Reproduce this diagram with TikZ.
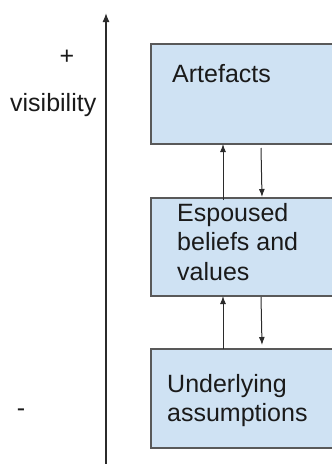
\documentclass[tikz,border=0pt]{standalone}
\usepackage{fontspec}
\setmainfont{Liberation Sans}
\usetikzlibrary{arrows.meta}
\definecolor{boxfill}{HTML}{CFE2F3}
\definecolor{boxline}{HTML}{595959}
\definecolor{txt}{HTML}{1A1A1A}
\definecolor{axiscol}{HTML}{2B2B2B}
\begin{document}
\begin{tikzpicture}[x=1pt,y=-1pt,
  layer/.style={draw=boxline, fill=boxfill, line width=1.5pt, rectangle, anchor=north west, inner sep=0pt, outer sep=0pt, minimum width=260pt},
  lbl/.style={anchor=north west, inner sep=0pt, align=left, text=txt, font=\fontsize{25}{29.5}\selectfont},
  plain/.style={inner sep=0pt, text=txt, font=\fontsize{25}{29.5}\selectfont},
  link/.style={draw=axiscol, line width=1pt, -{Latex[length=8pt,width=6pt]}},
  axisline/.style={draw=axiscol, line width=1.3pt, -{Latex[length=9pt,width=7pt]}},
  ]
\useasboundingbox (0,0) rectangle (332,464);
\clip (0,0) rectangle (332,464);
% layers
\node[layer, minimum height=100pt] (art) at (151,44) {};
\node[layer, minimum height=98pt] (esp) at (151,198) {};
\node[layer, minimum height=99pt] (und) at (151,349) {};
% labels
\node[lbl] (tart) at (172,64) {Artefacts};
\node[lbl] (tesp) at (177,203) {Espoused\\beliefs and\\values};
\node[lbl] (tund) at (167,374) {Underlying\\assumptions};
% axis
\coordinate (axbot) at (106,464);
\coordinate (axtop) at (106,13);
\draw[axisline] (axbot) -- (axtop);
\node[plain, anchor=base] (plus) at (67,64) {+};
\node[plain, anchor=base west] (vis) at (10,111) {visibility};
\node[plain, anchor=base] (minus) at (21,416) {-};
% links
\draw[link] ([xshift=72pt,yshift=-2pt]esp.north west) -- ([xshift=72pt]art.south west);
\draw[link] ([xshift=110pt,yshift=-4pt]art.south west) -- ([xshift=111pt,yshift=1pt]esp.north west);
\draw[link] ([xshift=72pt]und.north west) -- ([xshift=72pt]esp.south west);
\draw[link] ([xshift=110pt,yshift=-1pt]esp.south west) -- ([xshift=111pt,yshift=4pt]und.north west);
\end{tikzpicture}
\end{document}
